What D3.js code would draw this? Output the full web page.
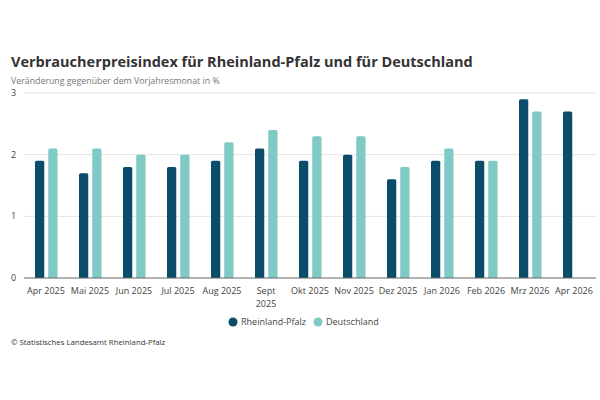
<!DOCTYPE html>
<html>
<head>
<meta charset="utf-8">
<script src="https://cdn.jsdelivr.net/npm/d3@7"></script>
<style>
  body { margin: 0; background: #fff; }
  text { font-family: "Open Sans", sans-serif; }
</style>
</head>
<body>
<div id="viz"></div>
<script>
const width = 600;
const height = 400;

const months = ['Apr 2025', 'Mai 2025', 'Jun 2025', 'Jul 2025', 'Aug 2025', 'Sept 2025', 'Okt 2025',
  'Nov 2025', 'Dez 2025', 'Jan 2026', 'Feb 2026', 'Mrz 2026', 'Apr 2026'];
const seriesNames = ['Rheinland-Pfalz', 'Deutschland'];
const rheinlandPfalz = [1.9, 1.7, 1.8, 1.8, 1.9, 2.1, 1.9, 2.0, 1.6, 1.9, 1.9, 2.9, 2.7];
const deutschland = [2.1, 2.1, 2.0, 2.0, 2.2, 2.4, 2.3, 2.3, 1.8, 2.1, 1.9, 2.7, null];
const yTicks = [0, 1, 2, 3];

const colors = ['#0c4c6b', '#7fcac5'];

const rows = [];
months.forEach((m, i) => {
  rows.push({ month: m, series: seriesNames[0], value: rheinlandPfalz[i] });
  if (deutschland[i] !== null) rows.push({ month: m, series: seriesNames[1], value: deutschland[i] });
});

const plot = { left: 24, right: 596, top: 93, bottom: 278 };

const svg = d3.select('#viz').append('svg')
  .attr('width', width)
  .attr('height', height);

const x0 = d3.scaleBand().domain(months).range([plot.left, plot.right]).padding(0);
const x1 = d3.scaleBand().domain(seriesNames).range([11, 33.5]).paddingInner(0.3);
const y = d3.scaleLinear().domain([0, 3]).range([plot.bottom, plot.top]);
const color = d3.scaleOrdinal().domain(seriesNames).range(colors);

// title
svg.append('text')
  .attr('x', 11).attr('y', 67)
  .style('font-size', '14.5px')
  .style('font-weight', 700)
  .attr('fill', '#333')
  .text('Verbraucherpreisindex für Rheinland-Pfalz und für Deutschland');

svg.append('text')
  .attr('x', 11).attr('y', 84)
  .style('font-size', '8.8px')
  .attr('fill', '#777')
  .text('Veränderung gegenüber dem Vorjahresmonat in %');

// grid
const grid = svg.append('g');
grid.selectAll('line').data(yTicks.filter(d => d > 0)).join('line')
  .attr('x1', plot.left).attr('x2', plot.right)
  .attr('y1', d => y(d)).attr('y2', d => y(d))
  .attr('stroke', '#e3e3e3').attr('stroke-width', 1);

grid.selectAll('text').data(yTicks).join('text')
  .attr('x', 11).attr('y', d => y(d))
  .attr('dy', '0.35em')
  .style('font-size', '9px')
  .attr('fill', '#444')
  .text(d => d);

// bars
svg.append('g').selectAll('path').data(rows).join('path')
  .attr('d', d => {
    const bx = x0(d.month) + x1(d.series);
    const bw = x1.bandwidth();
    const by = y(d.value);
    const r = 1.5;
    return `M${bx},${y(0)}V${by + r}Q${bx},${by} ${bx + r},${by}H${bx + bw - r}Q${bx + bw},${by} ${bx + bw},${by + r}V${y(0)}Z`;
  })
  .attr('fill', d => color(d.series));

// baseline
svg.append('line')
  .attr('x1', plot.left).attr('x2', plot.right)
  .attr('y1', y(0)).attr('y2', y(0))
  .attr('stroke', '#666').attr('stroke-width', 1);

// x labels (Sept 2025 wraps onto two lines)
const labelLines = [];
months.forEach(m => {
  const parts = m === 'Sept 2025' ? m.split(' ') : [m];
  parts.forEach((p, i) => labelLines.push({ month: m, text: p, line: i }));
});
svg.append('g').selectAll('text').data(labelLines).join('text')
  .attr('x', d => x0(d.month) + x0.bandwidth() / 2)
  .attr('y', d => 294 + d.line * 12.5)
  .attr('text-anchor', 'middle')
  .style('font-size', '9px')
  .attr('fill', '#444')
  .text(d => d.text);

// legend
const legendX = [233, 318];
const legend = svg.append('g').selectAll('g').data(seriesNames).join('g')
  .attr('transform', (d, i) => `translate(${legendX[i]}, 322)`);
legend.append('circle').attr('r', 4.5).attr('fill', d => color(d));
legend.append('text')
  .attr('x', 8).attr('dy', '0.35em')
  .style('font-size', '9px')
  .attr('fill', '#444')
  .text(d => d);

// source
svg.append('text')
  .attr('x', 11).attr('y', 345)
  .style('font-size', '7.8px')
  .attr('fill', '#333')
  .text('© Statistisches Landesamt Rheinland-Pfalz');
</script>
</body>
</html>
